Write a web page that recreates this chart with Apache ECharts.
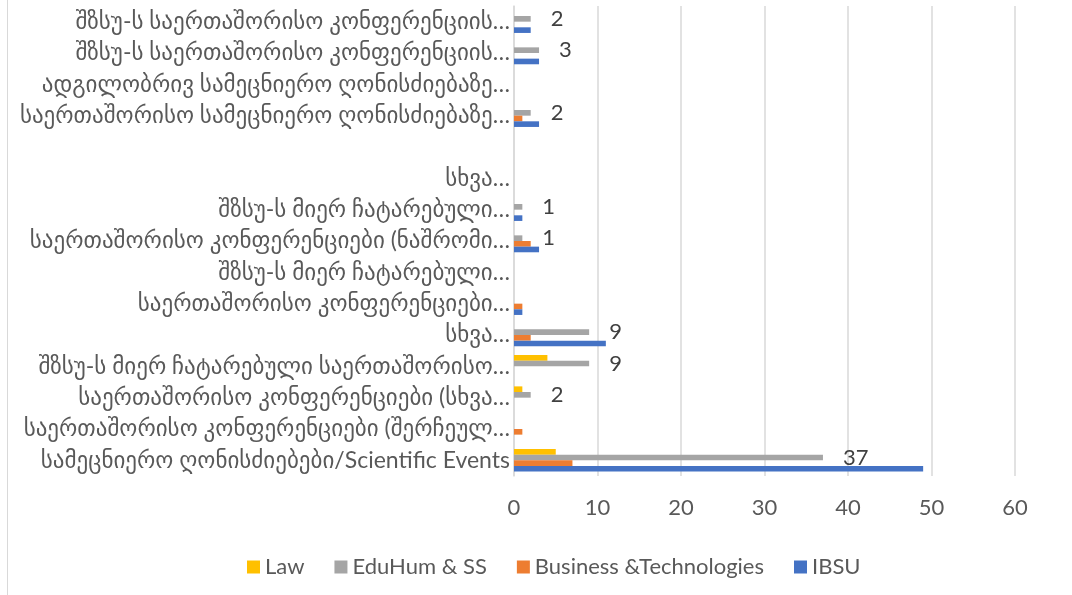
<!DOCTYPE html>
<html>
<head>
<meta charset="utf-8">
<script src="https://cdn.jsdelivr.net/npm/echarts@6/dist/echarts.min.js"></script>
<style>
  html, body { margin: 0; padding: 0; background: #fff; }
  #main { width: 1072px; height: 595px; }
  #edge { position: absolute; left: 7px; top: 0; width: 1px; height: 595px; background: #d9d9d9; }
</style>
</head>
<body>
<div id="edge"></div>
<div id="main"></div>
<script>
// categories, bottom to top (as the axis draws them)
var categories = [
    'სამეცნიერო ღონისძიებები/Scientific Events',
    'საერთაშორისო კონფერენციები (შერჩეულ…',
    'საერთაშორისო კონფერენციები (სხვა…',
    'შზსუ-ს მიერ ჩატარებული საერთაშორისო…',
    'სხვა…',
    'საერთაშორისო კონფერენციები…',
    'შზსუ-ს მიერ ჩატარებული…',
    'საერთაშორისო კონფერენციები (ნაშრომი…',
    'შზსუ-ს მიერ ჩატარებული…',
    'სხვა…',
    '',
    'საერთაშორისო სამეცნიერო ღონისძიებაზე…',
    'ადგილობრივ სამეცნიერო ღონისძიებაზე…',
    'შზსუ-ს საერთაშორისო კონფერენციის…',
    'შზსუ-ს საერთაშორისო კონფერენციის…'
];
var law      = [5, null, 1, 4, null, null, null, null, null, null, null, null, null, null, null];
var eduHum   = [37, null, 2, 9, 9, null, null, 1, 1, null, null, 2, null, 3, 2];
var business = [7, 1, null, null, 2, 1, null, 2, null, null, null, 1, null, null, null];
var ibsu     = [49, null, null, null, 11, 1, null, 3, 1, null, null, 3, null, 3, 2];
var xTicks = [0, 60, 10];

var font = "Lato, 'DejaVu Sans', sans-serif";
var myChart = echarts.init(document.getElementById('main'));

var option = {
    animation: false,
    color: ['#FFC000', '#A5A5A5', '#ED7D31', '#4472C4'],
    grid: { left: 514, right: 57, top: 6, bottom: 119, containLabel: false },
    legend: {
        left: 242, top: 551,
        icon: 'rect', itemWidth: 13, itemHeight: 13, itemGap: 30,
        textStyle: { fontSize: 22, color: '#595959', fontFamily: font }
    },
    xAxis: {
        type: 'value', min: xTicks[0], max: xTicks[1], interval: xTicks[2],
        axisLine: { show: false }, axisTick: { show: false },
        splitLine: { lineStyle: { color: '#d9d9d9', width: 1.5 } },
        axisLabel: { fontSize: 22, color: '#595959', margin: 21, fontFamily: font }
    },
    yAxis: {
        type: 'category', data: categories,
        axisLine: { lineStyle: { color: '#d9d9d9', width: 1.5 } },
        axisTick: { show: false },
        axisLabel: { interval: 0, fontSize: 23, color: '#595959', margin: 4, fontFamily: font }
    },
    series: [
        { name: 'Law', type: 'bar', data: law, barGap: '0%', barCategoryGap: '28%' },
        {
            name: 'EduHum & SS', type: 'bar', data: eduHum,
            label: { show: true, position: 'right', distance: 20, fontSize: 22, color: '#404040', fontFamily: font }
        },
        { name: 'Business &Technologies', type: 'bar', data: business },
        { name: 'IBSU', type: 'bar', data: ibsu }
    ]
};
myChart.setOption(option);
</script>
</body>
</html>
